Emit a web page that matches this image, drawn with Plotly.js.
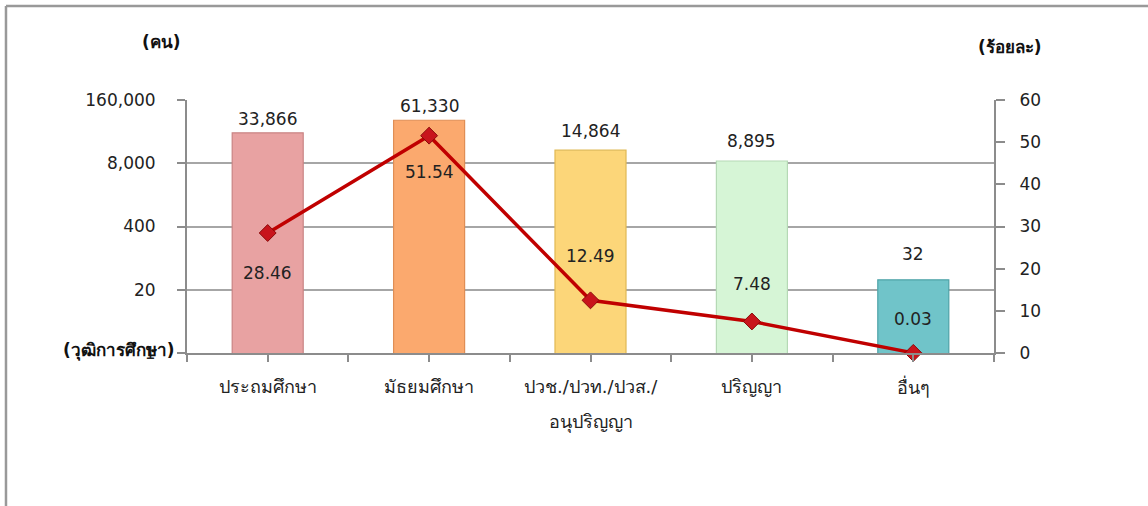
<!DOCTYPE html>
<html>
<head>
<meta charset="utf-8">
<script src="https://cdn.plot.ly/plotly-3.0.1.min.js"></script>
<style>
html,body{margin:0;padding:0;background:#fff;}
#chart{width:1148px;height:506px;}
</style>
</head>
<body>
<div id="chart"></div>
<script>
// ---- data ----
const categories = ["ประถมศึกษา", "มัธยมศึกษา", "ปวช./ปวท./ปวส./<br>อนุปริญญา", "ปริญญา", "อื่นๆ"];
const persons = [33866, 61330, 14864, 8895, 32];
const percents = [28.46, 51.54, 12.49, 7.48, 0.03];
const leftTickVals = [1, 20, 400, 8000, 160000];
const leftTickText = ["1", "20", "400", "8,000", "160,000"];
const rightTickVals = [0, 10, 20, 30, 40, 50, 60];

// ---- styling ----
const barColors = ["#E8A2A2", "#FBA96E", "#FCD679", "#D6F5D6", "#70C4C9"];
const barEdges  = ["#C98484", "#E08E55", "#E0B955", "#B5D9B5", "#4FA3A8"];
const pctShift  = [-40, -36, 44, 37, 34];   // label offsets (px) for percent labels
const barShift  = [14, 14, 19, 20, 26];     // label offsets (px) above bars

const xs = categories.map((c, i) => i);
const FONT = "Tahoma, 'DejaVu Sans', 'Noto Sans', sans-serif";
const fmt = v => v.toLocaleString("en-US");

const barTrace = {
  type: "bar", x: xs, y: persons, width: 0.44,
  marker: {color: barColors, line: {color: barEdges, width: 1.2}},
  hoverinfo: "skip", showlegend: false
};
const lineTrace = {
  type: "scatter", mode: "lines+markers", x: xs, y: percents, yaxis: "y2",
  line: {color: "#C00000", width: 3.5},
  marker: {symbol: "diamond", size: 13, color: "#C8141C", line: {color: "#8A0A0A", width: 1}},
  cliponaxis: false, hoverinfo: "skip", showlegend: false
};

const annotations = [];
persons.forEach((v, i) => annotations.push({
  x: i, y: Math.log10(v), xref: "x", yref: "y", text: fmt(v), showarrow: false,
  yshift: barShift[i], font: {family: FONT, size: 17, color: "#222"}
}));
percents.forEach((v, i) => annotations.push({
  x: i, y: v, xref: "x", yref: "y2", text: v.toFixed(2), showarrow: false,
  yshift: pctShift[i], font: {family: FONT, size: 17, color: "#222"}
}));
// category labels (each line placed separately for the wide Thai line spacing)
categories.forEach((c, i) => c.split("<br>").forEach((line, k) => annotations.push({
  x: i, y: 0, xref: "x", yref: "paper", text: line, showarrow: false,
  yanchor: "middle", yshift: -33 - 36 * k, font: {family: FONT, size: 18, color: "#222"}
})));
annotations.push(
  {xref: "paper", yref: "paper", x: -0.032, y: 1.229, xanchor: "center", yanchor: "middle",
   text: "<b>(คน)</b>", showarrow: false, font: {family: FONT, size: 17, color: "#111"}},
  {xref: "paper", yref: "paper", x: 1.0198, y: 1.209, xanchor: "center", yanchor: "middle",
   text: "<b>(ร้อยละ)</b>", showarrow: false, font: {family: FONT, size: 17, color: "#111"}},
  {xref: "paper", yref: "paper", x: -0.013, y: 0.01, xanchor: "right", yanchor: "middle",
   text: "<b>(วุฒิการศึกษา)</b>", showarrow: false, font: {family: FONT, size: 17, color: "#111"}}
);

const layout = {
  width: 1148, height: 506,
  margin: {l: 187, r: 154, t: 100, b: 153, pad: 0},
  paper_bgcolor: "#fff", plot_bgcolor: "#fff",
  font: {family: FONT, size: 17, color: "#222"},
  xaxis: {
    range: [-0.5, 4.5], fixedrange: true,
    tickmode: "array",
    tickvals: [-0.5, 0, 0.5, 1, 1.5, 2, 2.5, 3, 3.5, 4, 4.5],
    showticklabels: false,
    ticks: "outside", ticklen: 7, tickwidth: 2, tickcolor: "#8C8C8C",
    showline: true, linecolor: "#8C8C8C", linewidth: 2,
    showgrid: false, zeroline: false
  },
  yaxis: {
    type: "log", range: [0, Math.log10(160000)], fixedrange: true,
    tickmode: "array", tickvals: leftTickVals, ticktext: leftTickText,
    ticks: "outside", ticklen: 8, tickwidth: 2, tickcolor: "#8C8C8C",
    ticklabelstandoff: 18,
    showline: true, linecolor: "#8C8C8C", linewidth: 2,
    showgrid: true, gridcolor: "#A6A6A6", gridwidth: 2, zeroline: false,
    tickfont: {family: FONT, size: 17, color: "#222"}
  },
  yaxis2: {
    overlaying: "y", side: "right", range: [0, 60], fixedrange: true,
    tickmode: "array", tickvals: rightTickVals,
    ticks: "outside", ticklen: 9, tickwidth: 2, tickcolor: "#8C8C8C",
    ticklabelstandoff: 11,
    showline: true, linecolor: "#8C8C8C", linewidth: 2,
    showgrid: false, zeroline: false,
    tickfont: {family: FONT, size: 17, color: "#222"}
  },
  annotations: annotations,
  shapes: [
    {type: "line", xref: "paper", yref: "paper", x0: -0.2243, x1: 1.2, y0: 1.3715, y1: 1.3715,
     line: {color: "#999", width: 2.5}},
    {type: "line", xref: "paper", yref: "paper", x0: -0.2243, x1: -0.2243, y0: 1.3715, y1: -0.62,
     line: {color: "#999", width: 2.5}}
  ]
};

Plotly.newPlot("chart", [barTrace, lineTrace], layout, {displayModeBar: false, staticPlot: true});
</script>
</body>
</html>
